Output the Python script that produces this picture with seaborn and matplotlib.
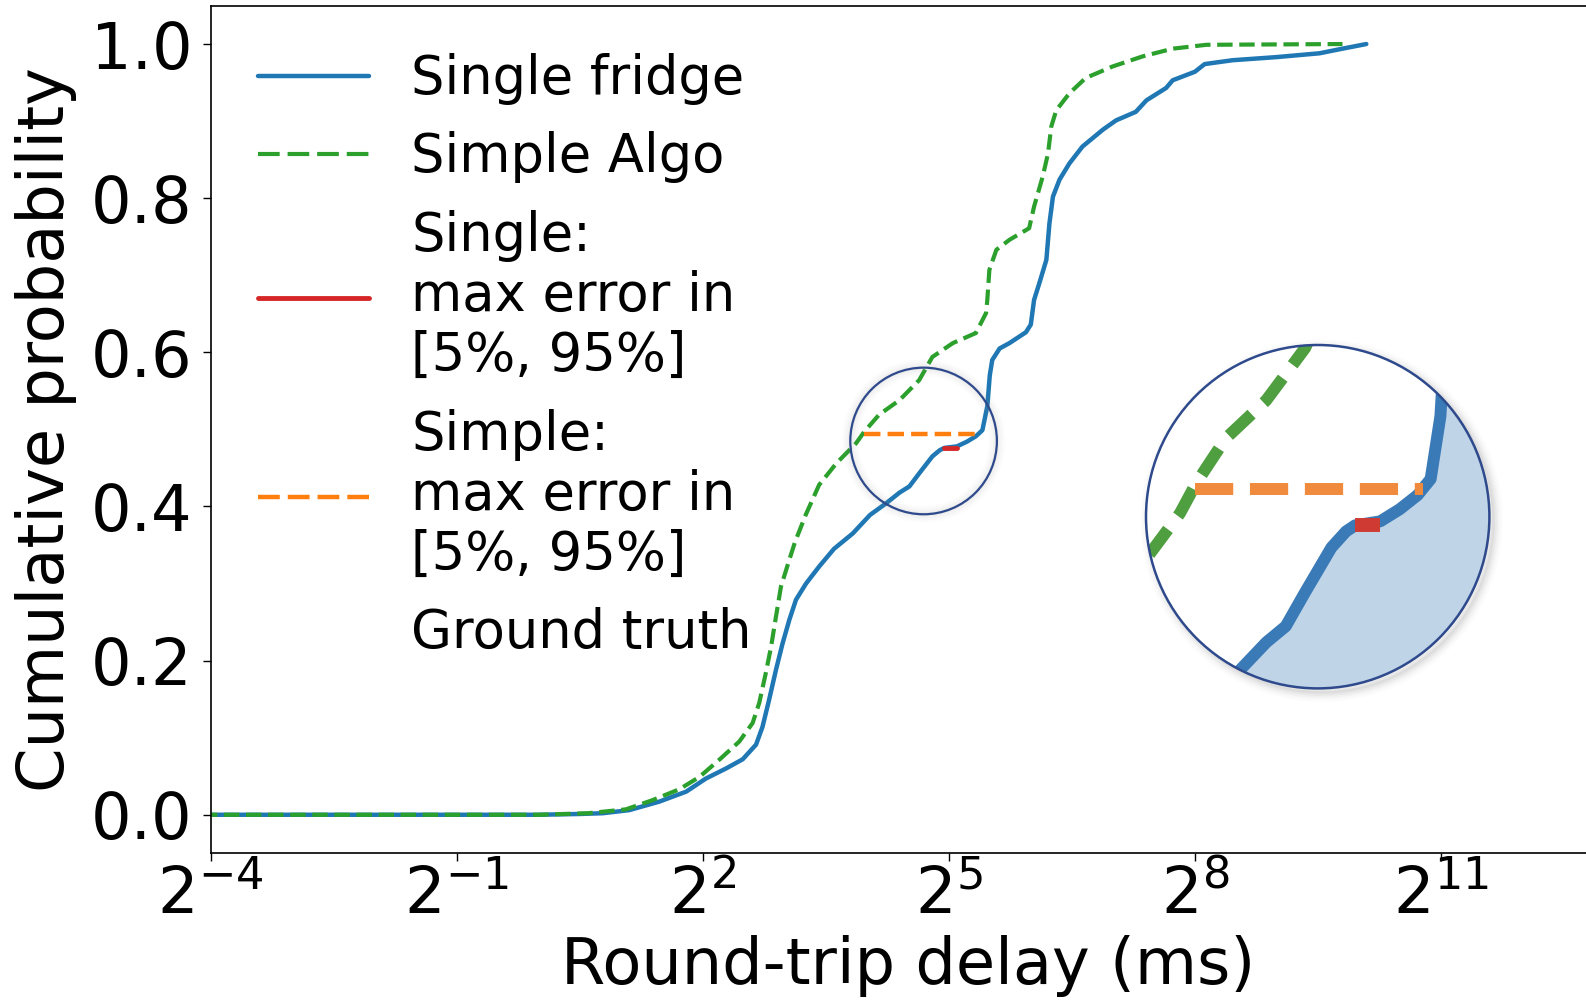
import numpy as np
import pandas as pd
import matplotlib
matplotlib.use("Agg")
import matplotlib.pyplot as plt
import seaborn as sns
from matplotlib.patches import Circle
from matplotlib.lines import Line2D
from matplotlib.transforms import ScaledTranslation
from matplotlib.ticker import FixedLocator, FixedFormatter, NullLocator

# ---------------- data ----------------
single_delay_ms = [0.04, 1.0, 1.41, 1.72, 2.15, 2.77, 3.48, 4.11, 4.87, 5.61, 6.28, 6.63,
                   7.01, 7.43, 7.86, 8.32, 8.80, 9.58, 10.70, 12.13, 14.22, 16.45, 18.83,
                   21.11, 22.94, 24.93, 27.86, 29.65, 30.82, 34.30, 37.27, 40.22, 42.52,
                   44.32, 45.25, 46.2, 49.18, 53.45, 61.39, 64.0, 65.8, 68.83, 73.0, 74.9,
                   77.17, 81.57, 88.65, 99.05, 117.8, 131.6, 155.4, 170.1, 200.8, 212.3,
                   256.0, 278.2, 352.1, 508.4, 734.1, 891.4, 1090.0]
single_cdf = [0.0, 0.0, 0.001, 0.002, 0.006, 0.017, 0.030, 0.047, 0.060, 0.072, 0.091, 0.114,
              0.149, 0.188, 0.2225, 0.253, 0.279, 0.300, 0.322, 0.345, 0.365, 0.389, 0.404,
              0.418, 0.426, 0.443, 0.465, 0.473, 0.476, 0.478, 0.484, 0.491, 0.499,
              0.530, 0.570, 0.590, 0.605, 0.612, 0.626, 0.636, 0.668, 0.690, 0.720, 0.767,
              0.802, 0.824, 0.845, 0.867, 0.889, 0.901, 0.912, 0.927, 0.943, 0.953,
              0.964, 0.974, 0.979, 0.983, 0.988, 0.994, 1.0]

simple_delay_ms = [0.04, 1.0, 1.52, 2.09, 2.62, 3.28, 3.89, 4.59, 5.45, 6.10, 6.45, 6.82,
                   7.13, 7.43, 7.75, 8.32, 8.73, 9.55, 10.70, 12.38, 14.62, 15.67, 17.75,
                   21.11, 24.93, 27.86, 33.13, 40.22, 43.86, 44.32, 45.10, 47.84, 53.45,
                   63.11, 65.79, 70.77, 74.03, 76.11, 79.34, 88.65, 101.8, 128.0, 164.8,
                   212.3, 282.1, 891.4]
simple_cdf = [0.0, 0.0, 0.002, 0.007, 0.019, 0.033, 0.049, 0.071, 0.095, 0.119, 0.145, 0.184,
              0.218, 0.257, 0.296, 0.331, 0.354, 0.389, 0.428, 0.456, 0.482, 0.497, 0.519,
              0.538, 0.564, 0.594, 0.612, 0.625, 0.651, 0.668, 0.707, 0.733, 0.746,
              0.761, 0.789, 0.828, 0.858, 0.893, 0.914, 0.936, 0.956, 0.971, 0.984,
              0.994, 0.999, 1.0]

single_err_delay_ms = [30.8, 34.3]
single_err_cdf = [0.476, 0.476]
simple_err_delay_ms = [15.6, 41.2]
simple_err_cdf = [0.494, 0.494]

xtick_exponents = [-4, -1, 2, 5, 8, 11]
ytick_values = [0.0, 0.2, 0.4, 0.6, 0.8, 1.0]
legend_labels = ["Single fridge", "Simple Algo",
                 "Single:\nmax error in\n[5%, 95%]",
                 "Simple:\nmax error in\n[5%, 95%]",
                 "Ground truth"]

# zoom region (the small circle) and its magnified copy
zoom_center = (25.87, 0.485)

# ---------------- styling ----------------
sns.set_style("ticks")
plt.rcParams['font.family'] = ['DejaVu Sans']
plt.rcParams['mathtext.fontset'] = 'dejavusans'
for key in ['text.color', 'axes.labelcolor', 'xtick.color', 'ytick.color', 'axes.edgecolor']:
    plt.rcParams[key] = 'black'

W, H = 1586, 1007
fig = plt.figure(figsize=(W / 100, H / 100), dpi=100)
ax = fig.add_axes([210.5 / W, 1 - 853.3 / H, (1605 - 210.5) / W, (853.3 - 5.5) / H])

c_blue, c_green, c_red, c_orange = '#1f77b4', '#2ca02c', '#d62728', '#ff7f0e'

single_df = pd.DataFrame({"delay": single_delay_ms, "cdf": single_cdf})
simple_df = pd.DataFrame({"delay": simple_delay_ms, "cdf": simple_cdf})

sns.lineplot(data=single_df, x="delay", y="cdf", ax=ax, color=c_blue, lw=3.2,
             sort=False, estimator=None, legend=False)
sns.lineplot(data=simple_df, x="delay", y="cdf", ax=ax, color=c_green, lw=3.0,
             linestyle='--', sort=False, estimator=None, legend=False)
sns.lineplot(x=simple_err_delay_ms, y=simple_err_cdf, ax=ax, color=c_orange, lw=3.2,
             linestyle='--', sort=False, estimator=None, legend=False, zorder=4)
sns.lineplot(x=single_err_delay_ms, y=single_err_cdf, ax=ax, color=c_red, lw=3.5,
             sort=False, estimator=None, legend=False, zorder=4)

ax.set_xscale('log', base=2)
ax.set_xlim(2.0 ** -4, 2.0 ** 13)
ax.set_ylim(-0.05, 1.05)
ax.xaxis.set_major_locator(FixedLocator([2.0 ** e for e in xtick_exponents]))
ax.xaxis.set_major_formatter(FixedFormatter([r'$\mathdefault{2^{%d}}$' % e for e in xtick_exponents]))
ax.xaxis.set_minor_locator(NullLocator())
ax.set_yticks(ytick_values)
ax.set_yticklabels(['%.1f' % v for v in ytick_values])
ax.tick_params(axis='both', which='major', labelsize=46, length=6, width=1.0,
               color='black', labelcolor='black', direction='out')
ax.tick_params(axis='y', pad=7)
ax.tick_params(axis='x', pad=2)
ax.set_xlabel('Round-trip delay (ms)', fontsize=46, labelpad=6, color='black')
ax.set_ylabel('Cumulative probability', fontsize=46, labelpad=10, color='black')
for s in ax.spines.values():
    s.set_linewidth(1.2)
    s.set_color('black')

# legend
handles = [Line2D([], [], color=c_blue, lw=3.2),
           Line2D([], [], color=c_green, lw=3.0, dashes=(5.2, 1.9)),
           Line2D([], [], color=c_red, lw=3.5),
           Line2D([], [], color=c_orange, lw=3.2, dashes=(4.9, 1.8)),
           Line2D([], [], color='none', lw=0)]
leg = ax.legend(handles, legend_labels, loc='upper left', frameon=False, fontsize=38,
                handlelength=2.1)
for t in leg.get_texts():
    t.set_color('black')

# small circle marking the zoom area (drawn in pixel units)
navy = '#2e4a8c'
r_small = 73.3 / 100.0
tr_small = fig.dpi_scale_trans + ScaledTranslation(zoom_center[0], zoom_center[1], ax.transData)
for k, a in enumerate([0.05, 0.04, 0.03, 0.02]):
    ax.add_patch(Circle((0, 0), r_small, transform=tr_small, fill=False,
                        ec='gray', lw=3 + 3 * k, alpha=a, zorder=5))
ax.add_patch(Circle((0, 0), r_small, transform=tr_small, fill=False, ec=navy, lw=1.6, zorder=6))

# magnified inset
cx, cy, R = 1317.7, 516.7, 171.7
ax_in = fig.add_axes([(cx - R) / W, 1 - (cy + R) / H, 2 * R / W, 2 * R / H])
ax_in.set_zorder(3)
ax_in.patch.set_visible(False)

# shadow behind inset
for k, a in enumerate([0.10, 0.07, 0.05, 0.03, 0.02]):
    fig.patches.append(Circle((cx + 4, H - cy - 4), R, transform=None, fill=False,
                              ec='gray', lw=2 + 3 * k, alpha=a, zorder=1))
fig.patches.append(Circle((cx, H - cy), R, transform=None, fc='white', ec='none', zorder=2))

clip = Circle((0.5, 0.5), 0.5, transform=ax_in.transAxes)
ib, ig, io, ir, ishade = '#3a7ab7', '#4f9e3f', '#f08a3c', '#cf3a33', '#bfd4e7'
ax_in.fill_between(single_delay_ms, single_cdf, 0, color=ishade, lw=0, zorder=1)
sns.lineplot(data=single_df, x="delay", y="cdf", ax=ax_in, color=ib, lw=8.6,
             sort=False, estimator=None, legend=False, zorder=2)
sns.lineplot(data=simple_df, x="delay", y="cdf", ax=ax_in, color=ig, lw=8.6,
             sort=False, estimator=None, legend=False, zorder=2)
ax_in.lines[-1].set_dashes((2.6, 1.4))
sns.lineplot(x=simple_err_delay_ms, y=simple_err_cdf, ax=ax_in, color=io, lw=8.6,
             sort=False, estimator=None, legend=False, zorder=3)
ax_in.lines[-1].set_dashes((3.2, 1.4))
sns.lineplot(x=single_err_delay_ms, y=single_err_cdf, ax=ax_in, color=ir, lw=10,
             sort=False, estimator=None, legend=False, zorder=4)
ax_in.set_xscale('log', base=2)
ax_in.set_xlim(2.0 ** 3.661, 2.0 ** 5.771)
ax_in.set_ylim(0.3952, 0.5654)
ax_in.axis('off')
for art in list(ax_in.lines) + list(ax_in.collections):
    art.set_clip_path(clip)
    if isinstance(art, Line2D):
        art.set_solid_capstyle('butt')
        art.set_dash_capstyle('butt')
        art.set_solid_joinstyle('round')
ax_in.add_patch(Circle((0.5, 0.5), 0.5, transform=ax_in.transAxes, fill=False,
                       ec=navy, lw=1.8, zorder=10, clip_on=False))

fig.savefig('out.png', dpi=100)
